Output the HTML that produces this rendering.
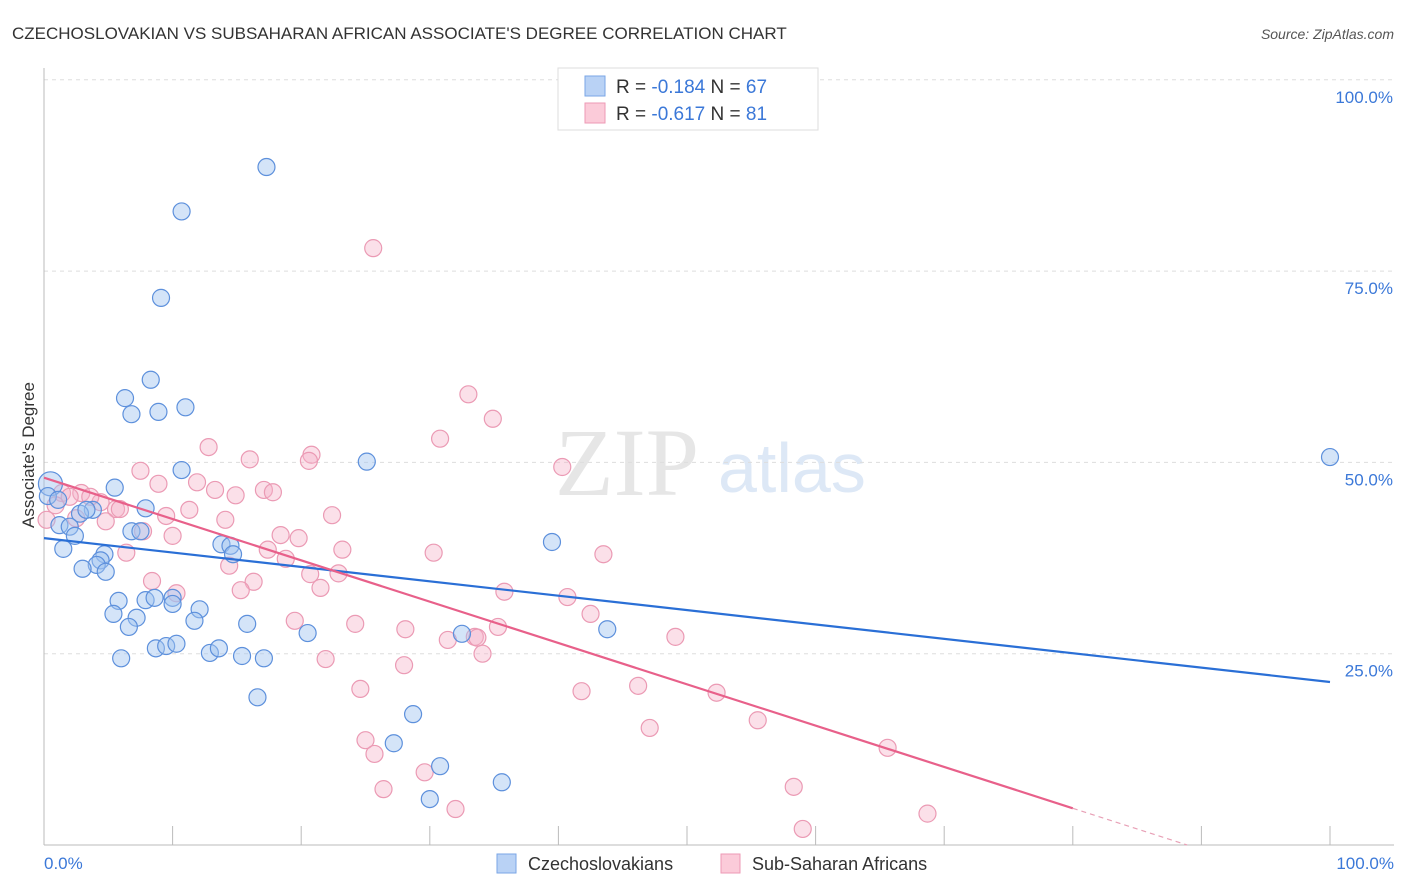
<!DOCTYPE html>
<html><head><meta charset="utf-8"><style>
body{margin:0;background:#fff;font-family:"Liberation Sans",sans-serif}
svg{display:block}
</style></head><body>
<svg id="chart" width="1406" height="892">
<text x="12" y="39" font-size="17" fill="#333">CZECHOSLOVAKIAN VS SUBSAHARAN AFRICAN ASSOCIATE'S DEGREE CORRELATION CHART</text>
<text x="1394" y="39" font-size="14" fill="#555" text-anchor="end" font-style="italic">Source: ZipAtlas.com</text>
<text x="555" y="495" font-size="96" fill="#e6e6e6" font-family="Liberation Serif">ZIP</text>
<text x="718" y="492" font-size="70" fill="#dde8f6">atlas</text>
<g id="grid"></g>
<g id="pts"></g>
<g id="lines"></g>
<text transform="translate(34,455) rotate(-90)" font-size="17" fill="#333" text-anchor="middle">Associate's Degree</text>
<text x="44" y="869" font-size="17" fill="#3b78d8">0.0%</text>
<text x="1394" y="869" font-size="17" fill="#3b78d8" text-anchor="end">100.0%</text>
<g>
<rect x="558" y="68" width="260" height="62" fill="#fff" stroke="#ddd"/>
<rect x="585" y="76" width="20" height="20" fill="#b9d2f5" stroke="#7aa6e6"/>
<rect x="585" y="103" width="20" height="20" fill="#fbcbd9" stroke="#ee9ab5"/>
<text x="616" y="93" font-size="19" fill="#333">R = <tspan fill="#3b78d8">-0.184</tspan>   N = <tspan fill="#3b78d8">67</tspan></text>
<text x="616" y="120" font-size="19" fill="#333">R = <tspan fill="#3b78d8">-0.617</tspan>   N = <tspan fill="#3b78d8"> 81</tspan></text>
</g>
<g>
<rect x="497" y="854" width="19" height="19" fill="#b9d2f5" stroke="#7aa6e6"/>
<text x="528" y="870" font-size="18" fill="#333">Czechoslovakians</text>
<rect x="721" y="854" width="19" height="19" fill="#fbcbd9" stroke="#ee9ab5"/>
<text x="752" y="870" font-size="18" fill="#333">Sub-Saharan Africans</text>
</g>
</svg>
<script>
const yTicks=[25,50,75,100];
const yTickLabels=["25.0%","50.0%","75.0%","100.0%"];
const xTicks=[0,10,20,30,40,50,60,70,80,90,100];
const blueX=[17.3,10.7,9.1,8.3,6.3,8.9,6.8,11.0,25.1,100,10.7,5.5,7.9,3.8,2.8,1.2,2.0,2.4,1.5,6.8,7.5,13.8,14.5,14.7,4.7,4.4,4.1,4.8,3.0,39.5,5.8,7.9,8.6,10.0,10.0,12.1,5.4,7.2,11.7,6.6,15.8,20.5,32.5,43.8,8.7,9.5,10.3,12.9,13.6,15.4,17.1,6.0,16.6,28.7,27.2,30.8,35.6,30.0,0.5,0.3,1.1,3.3];
const blueY=[88.6,82.8,71.5,60.8,58.4,56.6,56.3,57.2,50.1,50.7,49.0,46.7,44.0,43.8,43.3,41.8,41.6,40.4,38.7,41.0,41.0,39.3,39.1,38.0,38.0,37.2,36.6,35.7,36.1,39.6,31.9,32.0,32.3,32.3,31.5,30.8,30.2,29.7,29.3,28.5,28.9,27.7,27.6,28.2,25.7,26.0,26.3,25.1,25.7,24.7,24.4,24.4,19.3,17.1,13.3,10.3,8.2,6.0,47.2,45.6,45.1,43.8];
const pinkX=[25.6,33.0,34.9,30.8,12.8,20.8,16.0,20.6,40.3,7.5,11.9,8.9,13.3,14.9,17.1,17.8,1.4,2.9,4.4,5.6,5.9,11.3,9.5,4.8,14.1,22.4,2.5,0.2,10.0,7.7,18.4,19.8,30.3,43.5,6.4,17.4,23.2,18.8,14.4,16.3,8.4,20.7,22.9,21.5,35.8,10.3,15.3,40.7,42.5,19.5,24.2,28.1,31.4,33.5,33.7,35.3,49.1,34.1,21.9,28.0,24.6,41.8,46.2,52.3,55.5,47.1,25.0,25.7,65.6,26.4,29.6,32.0,58.3,59.0,68.7,0.9,2.0,3.6];
const pinkY=[78.0,58.9,55.7,53.1,52.0,51.0,50.4,50.2,49.4,48.9,47.4,47.2,46.4,45.7,46.4,46.1,46.0,46.0,44.8,43.9,43.9,43.8,43.0,42.3,42.5,43.1,42.7,42.5,40.4,41.0,40.5,40.1,38.2,38.0,38.2,38.6,38.6,37.4,36.5,34.4,34.5,35.4,35.5,33.6,33.1,32.9,33.3,32.4,30.2,29.3,28.9,28.2,26.8,27.2,27.1,28.5,27.2,25.0,24.3,23.5,20.4,20.1,20.8,19.9,16.3,15.3,13.7,11.9,12.7,7.3,9.5,4.7,7.6,2.1,4.1,44.4,45.5,45.5];
const blueTrend=[40.1,21.3];
const pinkTrend=[48.0,-6.0];
const pinkSolidEnd=80;
const NS='http://www.w3.org/2000/svg';
const sx=v=>44+v*12.86, sy=v=>845-v*7.652;
function mk(tag,attrs,parent){const e=document.createElementNS(NS,tag);for(const k in attrs)e.setAttribute(k,attrs[k]);parent.appendChild(e);return e;}
const grid=document.getElementById('grid');
yTicks.forEach((t,i)=>{
 const l=mk('line',{x1:44,x2:1394,y1:sy(t),y2:sy(t),stroke:'#ddd','stroke-dasharray':'4,4'},grid);
 
 
 const tx=mk('text',{x:1393,y:sy(t)+23,'font-size':17,fill:'#3b78d8','text-anchor':'end'},grid);
 tx.textContent=yTickLabels[i];
 
 
});
const ax=mk('line',{x1:44,x2:44,y1:68,y2:845,stroke:'#bbb'},grid);


const bx=mk('line',{x1:44,x2:1394,y1:845,y2:845,stroke:'#bbb'},grid);


xTicks.forEach(t=>{
 const l=mk('line',{x1:sx(t),x2:sx(t),y1:826,y2:845,stroke:'#bbb'},grid);
 
 
});
const pts=document.getElementById('pts');
pinkX.forEach((x,i)=>{
 const c=mk('circle',{cx:sx(x),cy:sy(pinkY[i]),r:8.5,fill:'rgba(246,178,200,0.4)',stroke:'#eb9ab4','stroke-width':1.2},pts);
 
 
});
blueX.forEach((x,i)=>{
 const c=mk('circle',{cx:sx(x),cy:sy(blueY[i]),r:i===58?12:8.5,fill:'rgba(160,195,240,0.45)',stroke:'#5d90dc','stroke-width':1.2},pts);
 
 
});
const lines=document.getElementById('lines');
const bl=mk('line',{x1:sx(0),y1:sy(blueTrend[0]),x2:sx(100),y2:sy(blueTrend[1]),stroke:'#2a6fd6','stroke-width':2.2},lines);


const pAt=x=>pinkTrend[0]+(pinkTrend[1]-pinkTrend[0])*x/100;
const pl=mk('line',{x1:sx(0),y1:sy(pAt(0)),x2:sx(pinkSolidEnd),y2:sy(pAt(pinkSolidEnd)),stroke:'#e8608a','stroke-width':2.2},lines);


const xEnd=100*pinkTrend[0]/(pinkTrend[0]-pinkTrend[1]);
const pd=mk('line',{x1:sx(pinkSolidEnd),y1:sy(pAt(pinkSolidEnd)),x2:sx(xEnd),y2:sy(0),stroke:'#e8a0b6','stroke-width':1.2,'stroke-dasharray':'5,4'},lines);


</script>
</body></html>
